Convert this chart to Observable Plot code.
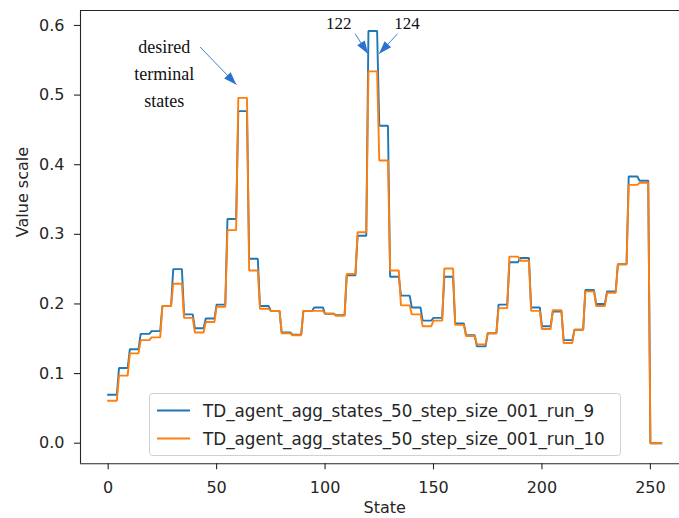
<!DOCTYPE html>
<html>
<head>
<meta charset="utf-8">
<script src="https://cdn.jsdelivr.net/npm/d3@7"></script>
<script src="https://cdn.jsdelivr.net/npm/@observablehq/plot@0.6"></script>
<style>
  html, body { margin: 0; padding: 0; background: #fff; overflow: hidden; }
  #chart { position: relative; width: 679px; height: 518px; }
</style>
</head>
<body>
<div id="chart"></div>
<script>
// Series names and colours
const seriesNames = [
  "TD_agent_agg_states_50_step_size_001_run_9",
  "TD_agent_agg_states_50_step_size_001_run_10"
];
const seriesColors = ["#1f77b4", "#ff7f0e"];

// Learned value of each of the 50 aggregated groups (5 consecutive states per group)
const run9 = [
  0.0695, 0.108, 0.135, 0.157, 0.161, 0.197, 0.250, 0.185, 0.165, 0.179,
  0.199, 0.322, 0.477, 0.265, 0.197, 0.190, 0.159, 0.156, 0.190, 0.195,
  0.186, 0.184, 0.241, 0.298, 0.592, 0.456, 0.239, 0.212, 0.195, 0.176,
  0.180, 0.239, 0.172, 0.155, 0.139, 0.158, 0.199, 0.260, 0.266, 0.195,
  0.168, 0.189, 0.148, 0.163, 0.220, 0.200, 0.218, 0.257, 0.383, 0.377
];
const run10 = [
  0.061, 0.097, 0.129, 0.148, 0.152, 0.197, 0.229, 0.180, 0.159, 0.174,
  0.196, 0.306, 0.496, 0.248, 0.193, 0.190, 0.158, 0.155, 0.190, 0.190,
  0.186, 0.183, 0.243, 0.303, 0.534, 0.406, 0.248, 0.198, 0.185, 0.168,
  0.176, 0.251, 0.170, 0.154, 0.142, 0.158, 0.194, 0.268, 0.262, 0.190,
  0.164, 0.191, 0.144, 0.163, 0.218, 0.197, 0.216, 0.257, 0.371, 0.374
];
const groupSize = 5;
const lastState = 255;   // states beyond the last group keep value 0
const unvisitedValue = 0;

const xTicks = [0, 50, 100, 150, 200, 250];
const yTicks = [0.0, 0.1, 0.2, 0.3, 0.4, 0.5, 0.6];

// Annotations (state, value)
const noteTexts = ["desired\nterminal\nstates", "122", "124"];
const noteX = [25.9, 106.3, 137.8];
const noteY = [0.534, 0.607, 0.607];
const noteSize = [18, 17, 17];
const arrowFromX = [42.4, 113.9, 133.4];
const arrowFromY = [0.569, 0.588, 0.588];
const arrowToX = [59.15, 119.8, 124.9];
const arrowToY = [0.515, 0.5593, 0.5593];

// Expand group values into one point per state
const points = [];
[run9, run10].forEach((vals, si) => {
  for (let s = 0; s <= lastState; s++) {
    const g = Math.floor(s / groupSize);
    points.push({state: s, value: g < vals.length ? vals[g] : unvisitedValue, run: seriesNames[si]});
  }
});

const notes = noteTexts.map((t, i) => ({text: t, x: noteX[i], y: noteY[i], size: noteSize[i]}));
const arrows = arrowFromX.map((_, i) => ({x1: arrowFromX[i], y1: arrowFromY[i], x2: arrowToX[i], y2: arrowToY[i]}));

// Layout
const W = 679, H = 518;
const mLeft = 80, mTop = 10, mBottom = 54.7, mRight = 0;
const xDomain = [-12.75, 267.75];
const xRange = [mLeft, 688.4];
const yDomain = [-0.0296, 0.6215];
const yBottom = yDomain[0], yTop = yDomain[1];

// pixel-space helpers, mirroring the plot scales, for arrowhead orientation
const px = d3.scaleLinear(xDomain, xRange);
const py = d3.scaleLinear(yDomain, [H - mBottom, mTop]);
arrows.forEach(a => {
  a.angle = Math.atan2(py(a.y2) - py(a.y1), px(a.x2) - px(a.x1)) * 180 / Math.PI;
});

const arrowHead = {
  draw(ctx) {
    ctx.moveTo(0, 0);
    ctx.lineTo(-13, -4.5);
    ctx.lineTo(-13, 4.5);
    ctx.closePath();
  }
};
const annotColor = "#2a72d0";
const spine = "#262626";

const chart = Plot.plot({
  width: W,
  height: H,
  marginLeft: mLeft,
  marginTop: mTop,
  marginBottom: mBottom,
  marginRight: mRight,
  style: {fontFamily: "DejaVu Sans", fontSize: "16px", background: "white", overflow: "visible"},
  x: {domain: xDomain, range: xRange, axis: null},
  y: {domain: yDomain, axis: null},
  color: {domain: seriesNames, range: seriesColors},
  marks: [
    // data lines
    Plot.line(points, {x: "state", y: "value", z: "run", stroke: "run", strokeWidth: 1.9, strokeLinejoin: "miter", strokeLinecap: "square"}),
    // spines
    Plot.ruleY([yBottom, yTop], {stroke: spine, strokeWidth: 1.1}),
    Plot.ruleX([xDomain[0]], {stroke: spine, strokeWidth: 1.1}),
    // ticks
    Plot.ruleX(xTicks, {x: d => d, y1: yBottom, y2: yBottom, insetBottom: -6, stroke: spine, strokeWidth: 1.1}),
    Plot.ruleY(yTicks, {y: d => d, x1: xDomain[0], x2: xDomain[0], insetLeft: -6, stroke: spine, strokeWidth: 1.1}),
    Plot.text(xTicks, {x: d => d, frameAnchor: "bottom", lineAnchor: "top", dy: 18, text: d => String(d), fill: "#262626", fontSize: 16}),
    Plot.text(yTicks, {y: d => d, frameAnchor: "left", textAnchor: "end", dx: -16, text: d => d.toFixed(1), fill: "#262626", fontSize: 16}),
    // axis labels
    Plot.text(["State"], {x: (xDomain[0] + xDomain[1]) / 2, frameAnchor: "bottom", lineAnchor: "top", dy: 38, text: d => d, fill: "#262626", fontSize: 16}),
    Plot.text(["Value scale"], {frameAnchor: "left", rotate: -90, dx: -58, text: d => d, fill: "#262626", fontSize: 16}),
    // annotations
    Plot.link(arrows, {x1: "x1", y1: "y1", x2: "x2", y2: "y2", stroke: annotColor, strokeWidth: 0.9}),
    Plot.dot(arrows, {x: "x2", y: "y2", symbol: arrowHead, rotate: "angle", fill: annotColor, stroke: "none", r: 3}),
    Plot.text(notes, {x: "x", y: "y", text: "text", fontSize: d => d.size, lineHeight: 1.5, fontFamily: "Liberation Serif", fill: "#111"})
  ]
});

document.getElementById("chart").appendChild(chart);

// Legend inside the axes, lower centre
const svg = d3.select(chart);
const color = chart.scale("color");
const lg = svg.append("g")
  .attr("font-family", "DejaVu Sans")
  .attr("font-size", 16.8)
  .attr("text-anchor", "start");
lg.append("rect")
  .attr("x", 149.5).attr("y", 393.5).attr("width", 471).attr("height", 62)
  .attr("rx", 3).attr("fill", "white").attr("fill-opacity", 0.8)
  .attr("stroke", "#d0d0d0").attr("stroke-width", 1);
seriesNames.forEach((name, i) => {
  const cy = 410.5 + i * 28;
  lg.append("line").attr("x1", 157).attr("x2", 190).attr("y1", cy).attr("y2", cy)
    .attr("stroke", color.apply(name)).attr("stroke-width", 1.9);
  lg.append("text").attr("x", 203).attr("y", cy + 6).attr("fill", "#262626").text(name);
});
</script>
</body>
</html>
